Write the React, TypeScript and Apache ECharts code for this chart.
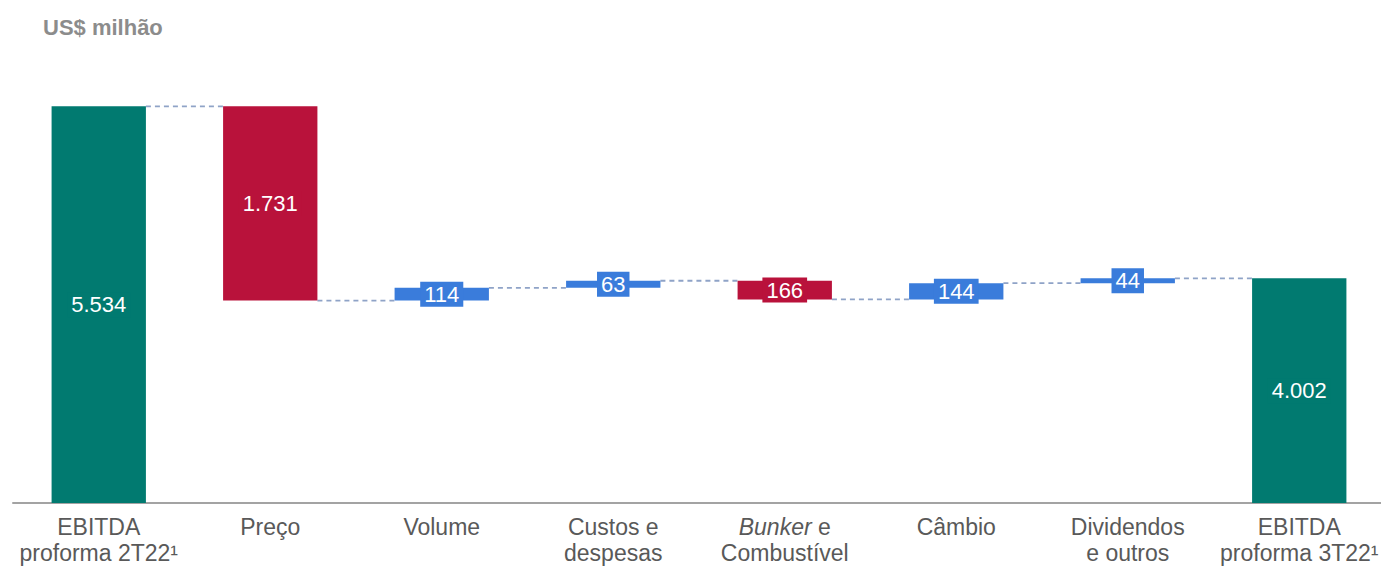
import React, { useEffect, useRef } from "react";
import * as echarts from "echarts";

const categories = [
  "EBITDA\nproforma 2T22¹",
  "Preço",
  "Volume",
  "Custos e\ndespesas",
  "{i|Bunker} e\nCombustível",
  "Câmbio",
  "Dividendos\ne outros",
  "EBITDA\nproforma 3T22¹",
];
const deltas = [5534, -1731, 114, 63, -166, 144, 44, 4002];
const kinds = ["total", "neg", "pos", "pos", "neg", "pos", "pos", "total"];
const valueLabels = ["5.534", "1.731", "114", "63", "166", "144", "44", "4.002"];
const axisMin = 2000;
const axisMax = 6000;

const colors: Record<string, string> = {
  total: "#017A70",
  neg: "#B9123B",
  pos: "#3A7CDB",
};

const FONT = "'Liberation Sans', Arial, sans-serif";

export default function App() {
  const ref = useRef<HTMLDivElement>(null);
  useEffect(() => {
    if (!ref.current) return;
    const chart = echarts.init(ref.current, null, { renderer: "svg" });

    const bases: number[] = [];
    const heights: number[] = [];
    const ends: number[] = [];
    let running = 0;
    deltas.forEach((d, i) => {
      if (kinds[i] === "total") {
        bases.push(axisMin);
        heights.push(d - axisMin);
        running = d;
      } else {
        const start = running;
        const end = running + d;
        bases.push(Math.min(start, end));
        heights.push(Math.abs(d));
        running = end;
      }
      ends.push(running);
    });

    const connectorData = ends.slice(0, ends.length - 1).map((lvl, i) => [i, lvl]);
    const barRatio = 0.55;

    chart.setOption({
      animation: false,
      title: {
        text: "US$ milhão",
        left: 43,
        top: 16,
        padding: 0,
        textStyle: {
          fontSize: 22,
          fontWeight: "bold",
          color: "#8C8C8C",
          fontFamily: FONT,
        },
      },
      grid: { left: 13, width: 1372, top: 54, height: 449, outerBoundsMode: "none", containLabel: false },
      xAxis: {
        type: "category",
        data: categories,
        axisLine: { lineStyle: { color: "#A3A3A3", width: 2 } },
        axisTick: { show: false },
        axisLabel: {
          interval: 0,
          margin: 11,
          color: "#595959",
          fontSize: 23,
          lineHeight: 26,
          fontFamily: FONT,
          rich: {
            i: {
              fontStyle: "italic",
              color: "#595959",
              fontSize: 23,
              lineHeight: 26,
              fontFamily: FONT,
            },
          },
        },
      },
      yAxis: {
        type: "value",
        min: axisMin,
        max: axisMax,
        show: false,
        splitLine: { show: false },
      },
      series: [
        {
          type: "bar",
          stack: "w",
          barWidth: "55%",
          silent: true,
          itemStyle: { color: "transparent" },
          data: bases,
        },
        {
          type: "bar",
          stack: "w",
          barWidth: "55%",
          data: heights.map((h, i) => {
            const c = colors[kinds[i]];
            return {
              value: h,
              itemStyle: { color: c },
              label: {
                show: true,
                position: "inside",
                formatter: valueLabels[i],
                color: "#FFFFFF",
                fontSize: 22,
                fontFamily: FONT,
                backgroundColor: c,
                padding: [2, 4, 1, 4],
              },
            };
          }),
        },
        {
          type: "custom",
          silent: true,
          data: connectorData,
          renderItem: (params: any, api: any) => {
            const i = api.value(0);
            const lvl = api.value(1);
            const p1 = api.coord([i, lvl]);
            const p2 = api.coord([i + 1, lvl]);
            const hw = (api.size([1, 0])[0] * barRatio) / 2;
            return {
              type: "line",
              shape: { x1: p1[0] + hw, y1: p1[1], x2: p2[0] - hw, y2: p2[1] },
              style: { stroke: "#8FA3C7", lineWidth: 1.8, lineDash: [5, 4] },
            };
          },
        },
      ],
    });
    return () => chart.dispose();
  }, []);
  return (
    <div
      ref={ref}
      style={{ position: "fixed", left: 0, top: 0, width: 1381, height: 567, background: "#fff" }}
    />
  );
}
